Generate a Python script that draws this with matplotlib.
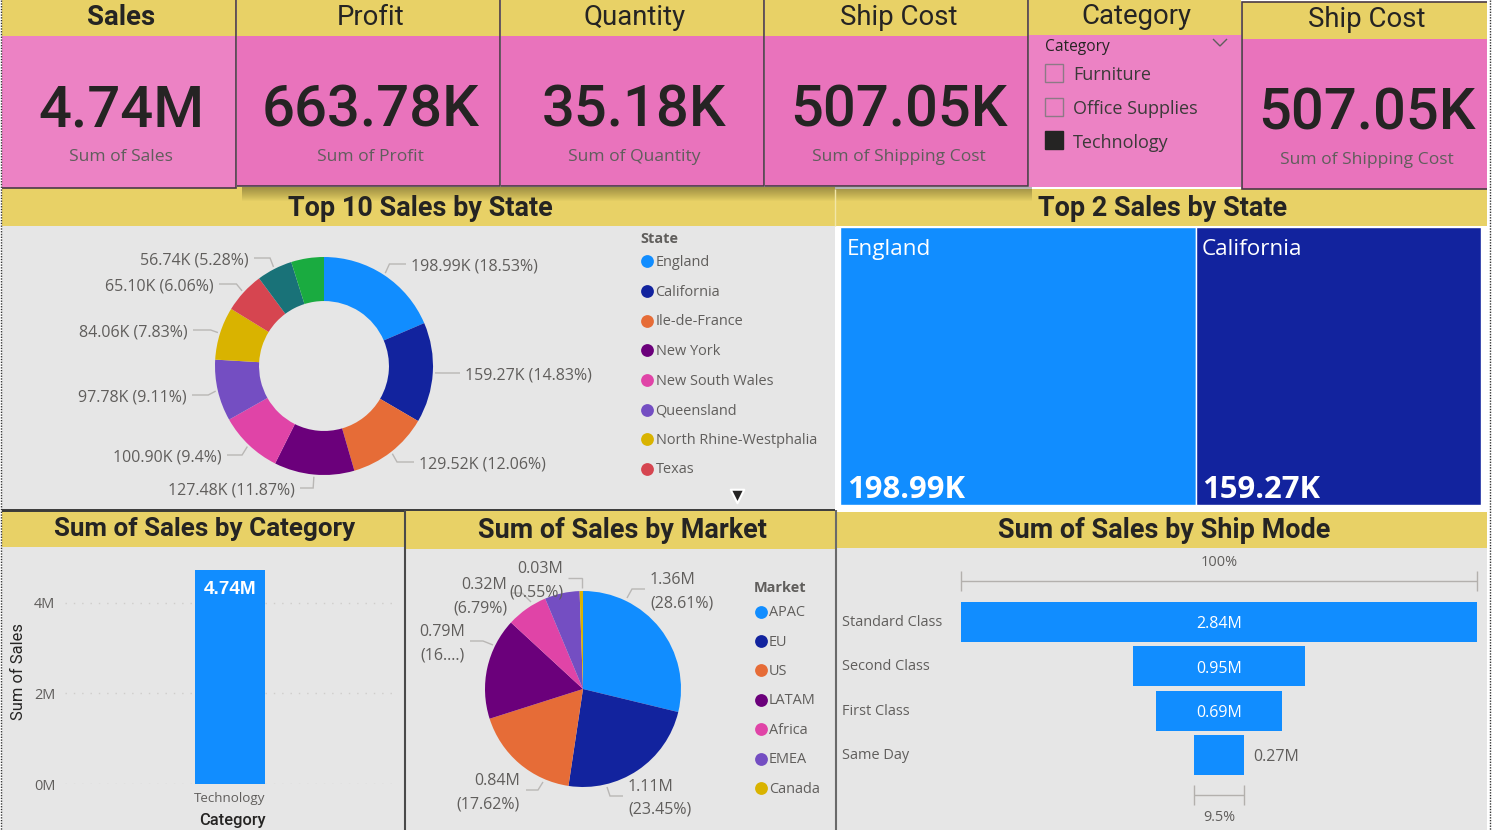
import numpy as np
import matplotlib
matplotlib.use("Agg")
import matplotlib.pyplot as plt
from matplotlib.patches import Rectangle

### data
kpi_titles = ['Sales', 'Profit', 'Quantity', 'Ship Cost', 'Ship Cost']
kpi_values = ['4.74M', '663.78K', '35.18K', '507.05K', '507.05K']
kpi_labels = ['Sum of Sales', 'Sum of Profit', 'Sum of Quantity', 'Sum of Shipping Cost', 'Sum of Shipping Cost']

slicer_items = ['Furniture', 'Office Supplies', 'Technology']
slicer_checked = [False, False, True]

states = ['England', 'California', 'Ile-de-France', 'New York', 'New South Wales',
          'Queensland', 'North Rhine-Westphalia', 'Texas']
state_sales = [198.99, 159.27, 129.52, 127.48, 100.90, 97.78, 84.06, 65.10, 56.74, 52.06]
state_labels = ['198.99K (18.53%)', '159.27K (14.83%)', '129.52K (12.06%)', '127.48K (11.87%)',
                '100.90K (9.4%)', '97.78K (9.11%)', '84.06K (7.83%)', '65.10K (6.06%)',
                '56.74K (5.28%)', None]
state_colors = ['#118DFF', '#12239E', '#E66C37', '#6B007B', '#E044A7', '#744EC2',
                '#D9B300', '#D64550', '#197278', '#1AAB40']

top2_states = ['England', 'California']
top2_sales = [198.99, 159.27]
top2_text = ['198.99K', '159.27K']

categories = ['Technology']
category_sales = [4.74]

markets = ['APAC', 'EU', 'US', 'LATAM', 'Africa', 'EMEA', 'Canada']
market_share = [28.61, 23.45, 17.62, 16.67, 6.79, 5.72, 0.55]
market_colors = ['#118DFF', '#12239E', '#E66C37', '#6B007B', '#E044A7', '#744EC2', '#D9B300']

ship_modes = ['Standard Class', 'Second Class', 'First Class', 'Same Day']
ship_sales = [2.84, 0.95, 0.69, 0.27]

### layout, all in pixels of the 1492x830 picture
YELLOW = '#E8D166'
PINK = '#E973BC'
PINK2 = '#EC82C4'
GRAY = '#E6E6E6'
DARK = '#252423'
MID = '#605E5C'
W, H = 1492, 830
BODY = 'Open Sans'
HEAD = 'Roboto'

fig = plt.figure(figsize=(W / 100, H / 100), dpi=100, facecolor='white')

def px_axes(x0, y0, x1, y1, **kw):
  return fig.add_axes([x0 / W, 1 - y1 / H, (x1 - x0) / W, (y1 - y0) / H], **kw)

canvas = px_axes(0, 0, W, H, zorder=0)
canvas.set_xlim(0, W)
canvas.set_ylim(H, 0)
canvas.axis('off')
over = px_axes(0, 0, W, H, zorder=5)
over.set_xlim(0, W)
over.set_ylim(H, 0)
over.axis('off')

def box(x0, y0, x1, y1, color, **kw):
  canvas.add_patch(Rectangle((x0, y0), x1 - x0, y1 - y0, facecolor=color, edgecolor='none', **kw))

def txt(x, y, s, size, color=DARK, ha='center', weight='normal', family=BODY, **kw):
  # va=center counts the descender, so push the text down a little
  return over.text(x, y + 0.08 * size, s, fontsize=size * 0.72, color=color, ha=ha, va='center',
                   fontweight=weight, family=family, **kw)

def line(xs, ys, color='#C8C6C4', lw=1.0, **kw):
  over.plot(xs, ys, color=color, lw=lw, solid_capstyle='butt', solid_joinstyle='miter', **kw)

### panels
box(2, 226, 835, 509, GRAY)
box(2, 547, 404, 830, GRAY)
box(406, 548, 835, 830, GRAY)
box(837, 548, 1487, 830, GRAY)

for x0, x1, y0, y1, title, size, cy in [(2, 835, 187, 226, 'Top 10 Sales by State', 27, 206),
                                        (835, 1487, 189, 226, 'Top 2 Sales by State', 27, 206),
                                        (2, 404, 511, 547, 'Sum of Sales by Category', 26, 527),
                                        (406, 835, 511, 549, 'Sum of Sales by Market', 27, 528),
                                        (837, 1487, 512, 548, 'Sum of Sales by Ship Mode', 27, 528)]:
  box(x0, y0, x1, y1, YELLOW)
  txt((x0 + x1) / 2 + 2, cy, title, size, weight='bold', family=HEAD)

# soft shadow under the kpi cards
for i in range(14):
  box(242, 187, 1032, 188 + i, '#000000', alpha=0.022)

kpi_boxes = [(2, 236, 36, 188, 0, PINK2), (237, 500, 36, 186, 0, PINK), (501, 764, 36, 186, 0, PINK),
             (765, 1028, 36, 186, 0, PINK), (1242, 1487, 39, 189, 2, PINK)]
for i, (x0, x1, y0, y1, top, col) in enumerate(kpi_boxes):
  box(x0, top, x1, y0, YELLOW)
  box(x0, y0, x1, y1, col)
  cx = (x0 + x1) / 2 + 2
  txt(cx, (top + y0) / 2 - 3, kpi_titles[i], 27.5, weight='bold' if i == 0 else 'normal', family=HEAD)
  txt(cx, y0 + 70, kpi_values[i], 58, family=HEAD, weight='medium')
  txt(cx, y0 + 120, kpi_labels[i], 17.5, color=MID)
  if i < 4:
    line([x0, x1, x1], [y1, y1, top], color='#4A3A46', lw=1.2)
  else:
    line([x1, x0, x0, x1], [y1, y1, top, top], color='#4A3A46', lw=1.2)

# slicer
box(1029, 0, 1241, 35, YELLOW)
box(1029, 35, 1241, 187, PINK2)
txt(1136, 14, 'Category', 27.5, family=HEAD)
txt(1045, 46, 'Category', 15.5, ha='left', weight='medium')
line([1213, 1220, 1227], [39, 46, 39], color=MID, lw=1)
for i, item in enumerate(slicer_items):
  y = 73 + 33.7 * i
  canvas.add_patch(Rectangle((1045, y - 9), 18, 18, facecolor=DARK if slicer_checked[i] else 'none',
                             edgecolor=DARK if slicer_checked[i] else '#8C7A86', lw=1))
  txt(1073, y + 1, item, 18, ha='left', color='#3B3A39')

### donut
dx, dy, dr = 324, 366, 109
ax = px_axes(dx - dr, dy - dr, dx + dr, dy + dr, zorder=2)
ax.pie(state_sales, colors=state_colors, startangle=90, counterclock=False, radius=1,
       wedgeprops=dict(width=0.404))
ax.set_xlim(-1, 1)
ax.set_ylim(-1, 1)

donut_label_pos = [(411, 265, 'left'), (465, 374, 'left'), (419, 463, 'left'), (295, 489, 'right'),
                   (222, 456, 'right'), (187, 396, 'right'), (188, 331, 'right'), (214, 285, 'right'),
                   (249, 259, 'right')]
mids = (np.cumsum(state_sales) - np.array(state_sales) / 2) / sum(state_sales) * 2 * np.pi
for m, label, (lx, ly, ha) in zip(mids, state_labels, donut_label_pos):
  txt(lx, ly, label, 16, color=MID, ha=ha)
  sx = dx + dr * 1.02 * np.sin(m)
  sy = dy - dr * 1.02 * np.cos(m)
  ex = dx + dr * 1.09 * np.sin(m)
  sign = -1 if ha == 'left' else 1
  line([sx, ex, lx + sign * 5], [sy, ly - 1, ly - 1], color='#B9B7B5')

txt(640, 238, 'State', 14.5, ha='left', weight='bold', color=MID)
for i, st in enumerate(states):
  y = 261.5 + 29.6 * i
  over.scatter([647], [y], s=85, color=state_colors[i], linewidths=0)
  txt(655.5, y, st, 14.5, ha='left', color=MID)
over.scatter([737], [496], marker='v', s=95, color='#252423', edgecolors='white', linewidths=1.5)

### treemap
box(835, 226, 1487, 510, 'white')
ax = px_axes(840.5, 227.5, 1480.5, 505.5, zorder=2)
ax.bar(np.concatenate([[0], np.cumsum(top2_sales)[:-1]]), [1, 1], width=top2_sales, align='edge',
       color=state_colors[:2], edgecolor='white', linewidth=1)
ax.set_xlim(0, sum(top2_sales))
ax.set_ylim(0, 1)
ax.axis('off')
for name, val, x in zip(top2_states, top2_text, [847, 1202]):
  txt(x, 248, name, 22.5, color='white', ha='left')
  txt(x, 488, val, 31, color='white', ha='left', weight='bold')

### bar chart
ax = px_axes(65, 560, 395, 784, zorder=2)
ax.set_facecolor('none')
ax.bar(categories, category_sales, width=0.215, color='#118DFF', zorder=3)
ax.set_xlim(-0.5, 0.5)
ax.set_ylim(0, 4.95)
ax.set_yticks([0, 2, 4])
ax.set_yticklabels(['0M', '2M', '4M'], color=MID, fontsize=14.5 * 0.72, family=BODY)
ax.tick_params(length=0, pad=7)
ax.tick_params(axis='x', pad=6, labelsize=13.4 * 0.72, labelcolor=MID)
for lab in ax.get_xticklabels():
  lab.set_family(BODY)
ax.grid(axis='y', color='#CFCDCB', linestyle=(0, (1, 5)), lw=1)
ax.set_axisbelow(True)
for s in ax.spines.values():
  s.set_visible(False)
txt(230.5, 588, '4.74M', 19, color='white', weight='bold', family='Liberation Sans')
txt(232, 819, 'Category', 16.5, family=HEAD, weight='medium')
txt(19, 670, 'Sum of Sales', 16.5, family=HEAD, rotation=90)

### market pie
mx, my, mr = 583, 689, 98
ax = px_axes(mx - mr, my - mr, mx + mr, my + mr, zorder=2)
ax.pie(market_share, colors=market_colors, startangle=90, counterclock=False, radius=1,
       wedgeprops=dict(edgecolor='none'))
ax.set_xlim(-1, 1)
ax.set_ylim(-1, 1)

market_labels = [('1.36M', '(28.61%)', 650, 579, 602, 'left'),
                 ('1.11M', '(23.45%)', 628, 786, 808, 'left'),
                 ('0.84M', '(17.62%)', 520, 780, 803, 'right'),
                 ('0.79M', '(16....)', 465, 631, 654, 'right'),
                 ('0.32M', '(6.79%)', 507, 584, 607, 'right'),
                 ('0.03M', '(0.55%)', 563, 568, 591, 'right')]
for a, b, x, y1, y2, ha in market_labels:
  txt(x, y1, a, 16, color=MID, ha=ha)
  txt(x, y2, b, 16, color=MID, ha=ha)
market_leaders = [([627, 632, 645], [598, 589, 589]), ([607, 610, 623], [787, 796, 796]),
                  ([543, 538, 526], [782, 790, 790]), ([493, 483, 470], [645, 641, 641]),
                  ([531, 522, 512], [602, 593, 593]), ([582, 582, 568], [588, 578, 578])]
for xs, ys in market_leaders:
  line(xs, ys, color='#B9B7B5')

txt(754, 587, 'Market', 14.5, ha='left', weight='bold', color=MID)
for i, mk in enumerate(markets):
  y = 611.5 + 29.4 * i
  over.scatter([761], [y], s=85, color=market_colors[i], linewidths=0)
  txt(769, y, mk, 14.5, ha='left', color=MID)

### funnel
ax = px_axes(961, 599.8, 1477, 777.2, zorder=2)
ax.barh(range(len(ship_sales)), ship_sales, left=[-v / 2 for v in ship_sales], height=0.9, color='#118DFF')
ax.set_xlim(-ship_sales[0] / 2, ship_sales[0] / 2)
ax.set_ylim(3.5, -0.5)
ax.axis('off')
for i, (mode, v) in enumerate(zip(ship_modes, ship_sales)):
  y = 622 + 44.33 * i
  txt(842, y - 0.5, mode, 14.5, ha='left', color=MID)
  if i < 3:
    txt(1219, y + 1, '%.2fM' % v, 16, color='white')
  else:
    txt(1253, y + 1, '%.2fM' % v, 16, color=MID, ha='left')

xscale = 516 / ship_sales[0]
for frac_v, ly, ty in [(ship_sales[0], 581, 561), (ship_sales[-1], 795, 816)]:
  hw = frac_v * xscale / 2
  line([1219 - hw, 1219 + hw], [ly, ly], color='#B3B0AD')
  line([1219 - hw, 1219 - hw], [ly - 10, ly + 10], color='#B3B0AD')
  line([1219 + hw, 1219 + hw], [ly - 10, ly + 10], color='#B3B0AD')
  pct = frac_v / ship_sales[0] * 100
  txt(1219, ty, '%.0f%%' % pct if pct == 100 else '%.1f%%' % pct, 14.5, color=MID)

### separators
line([2, 835], [509.5, 509.5], color='#3A3A3A', lw=1.4)
line([2, 404], [510.5, 510.5], color='#3A3A3A', lw=1.4)
line([405, 405], [510, 830], color='#4A4A4A', lw=1.5)
line([836, 836], [510, 830], color='#6A6A6A', lw=1.5)
line([835, 835], [189, 226], color='#F2E6A8', lw=1)
# dotted selection edge left and right
for ex in [1, 1490]:
  over.plot([ex, ex], [0, H], color='#333333', lw=1, linestyle=(0, (1, 1)))
over.set_xlim(0, W)
over.set_ylim(H, 0)

fig.savefig('out.png', dpi=100)
